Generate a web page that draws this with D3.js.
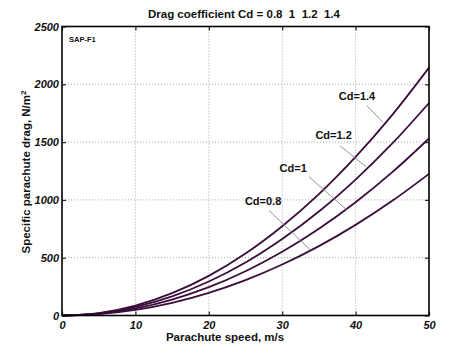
<!DOCTYPE html>
<html><head><meta charset="utf-8">
<script src="https://cdn.jsdelivr.net/npm/d3@7/dist/d3.min.js"></script>
<style>body{margin:0;background:#fff}svg{display:block}text{font-family:Arial,"Liberation Sans",sans-serif}</style>
</head><body><svg id="c" width="474" height="355"></svg>
<script>
const speeds = [0,5,10,15,20,25,30,35,40,45,50];
const cd08 = [0,12,49,110,196,306,441,600,784,992,1225];
const cd10 = [0,15,61,138,245,383,551,750,980,1240,1531];
const cd12 = [0,18,74,165,294,459,662,900,1176,1488,1838];
const cd14 = [0,21,86,193,343,536,772,1050,1372,1736,2144];
const seriesNames = ["Cd=0.8","Cd=1","Cd=1.2","Cd=1.4"];
const xTicks = [0,10,20,30,40,50];
const yTicks = [0,500,1000,1500,2000,2500];
// annotation: label anchor and leader line in data units
const labels = [
  {t:"Cd=0.8", tx:27.4, ty:977, x1:28.2, y1:908, x2:33.8, y2:568},
  {t:"Cd=1",   tx:31.5, ty:1269, x1:33.65, y1:1200, x2:38.8, y2:914},
  {t:"Cd=1.2", tx:37.0, ty:1555, x1:37.87, y1:1469, x2:41.42, y2:1287},
  {t:"Cd=1.4", tx:40.2, ty:1893, x1:41.5, y1:1818, x2:43.73, y2:1671}
];

const svg = d3.select("#c");
const L=62, R=429, T=26.5, B=315.5;
const x = d3.scaleLinear().domain([0,50]).range([L,R]);
const y = d3.scaleLinear().domain([0,2500]).range([B,T]);

// grid
const g = svg.append("g");
g.selectAll(".gx").data(xTicks.slice(1,-1)).enter().append("line")
  .attr("x1",d=>x(d)).attr("x2",d=>x(d)).attr("y1",T).attr("y2",B)
  .attr("stroke","#aaa").attr("stroke-width",1).attr("stroke-dasharray","1,2");
g.selectAll(".gy").data(yTicks.slice(1,-1)).enter().append("line")
  .attr("y1",d=>y(d)).attr("y2",d=>y(d)).attr("x1",L).attr("x2",R)
  .attr("stroke","#aaa").attr("stroke-width",1).attr("stroke-dasharray","1,2");

// axes
const fmt = d3.format("d");
const ax = svg.append("g").attr("transform",`translate(0,${B})`)
  .call(d3.axisBottom(x).tickValues(xTicks).tickFormat(fmt).tickSizeInner(-4).tickSizeOuter(0).tickPadding(6));
const ay = svg.append("g").attr("transform",`translate(${L},0)`)
  .call(d3.axisLeft(y).tickValues(yTicks).tickFormat(fmt).tickSizeInner(-4).tickSizeOuter(0).tickPadding(3));
const axT = svg.append("g").attr("transform",`translate(0,${T})`)
  .call(d3.axisTop(x).tickValues(xTicks).tickFormat("").tickSizeInner(-4).tickSizeOuter(0));
const ayR = svg.append("g").attr("transform",`translate(${R},0)`)
  .call(d3.axisRight(y).tickValues(yTicks).tickFormat("").tickSizeInner(-4).tickSizeOuter(0));
[ax,ay,axT,ayR].forEach(a=>{a.select(".domain").remove();a.selectAll(".tick line").attr("stroke","#222").attr("stroke-width",1.2);});
[ax,ay].forEach(a=>a.selectAll(".tick text").attr("font-size",11).attr("font-weight","bold").attr("font-style","italic").attr("fill","#111"));

// curves
const line = d3.line().x((d,i)=>x(speeds[i])).y(d=>y(d)).curve(d3.curveCatmullRom);
[cd08,cd10,cd12,cd14].forEach(s=>{
  svg.append("path").datum(s).attr("d",line).attr("fill","none")
    .attr("stroke","#3b0d3b").attr("stroke-width",1.8);
});

// frame
svg.append("rect").attr("x",L).attr("y",T).attr("width",R-L).attr("height",B-T)
  .attr("fill","none").attr("stroke","#000").attr("stroke-width",1.6);

// annotations
labels.forEach(a=>{
  svg.append("line").attr("x1",x(a.x1)).attr("y1",y(a.y1)).attr("x2",x(a.x2)).attr("y2",y(a.y2))
    .attr("stroke","#888").attr("stroke-width",0.9);
  svg.append("text").attr("x",x(a.tx)).attr("y",y(a.ty)).attr("text-anchor","middle")
    .attr("dominant-baseline","middle").attr("font-size",11).attr("font-weight","bold").attr("fill","#111").text(a.t);
});

svg.append("text").attr("x",69).attr("y",42).attr("font-size",7.5).attr("font-weight","bold").attr("fill","#111").text("SAP-F1");

// titles
svg.append("text").attr("x",244).attr("y",18).attr("text-anchor","middle")
  .attr("font-size",11.5).attr("font-weight","bold").attr("fill","#111").style("white-space","pre").text("Drag coefficient Cd = 0.8  1  1.2  1.4");
svg.append("text").attr("x",225).attr("y",341).attr("text-anchor","middle")
  .attr("font-size",11.5).attr("font-weight","bold").attr("fill","#111").text("Parachute speed, m/s");
const yl = svg.append("text").attr("transform","translate(30,172) rotate(-90)").attr("text-anchor","middle")
  .attr("font-size",11.5).attr("font-weight","bold").attr("fill","#111");
yl.append("tspan").text("Specific parachute drag, N/m");
yl.append("tspan").attr("dy","-0.45em").attr("font-size",8).text("2");
</script></body></html>
